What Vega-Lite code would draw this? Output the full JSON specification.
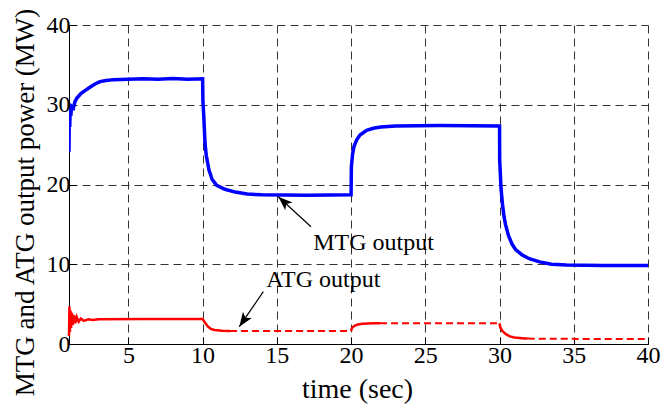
{
  "$schema": "https://vega.github.io/schema/vega-lite/v6.json",
  "width": 579,
  "height": 319,
  "autosize": {"type": "none"},
  "padding": {"left": 69, "top": 25, "right": 12, "bottom": 62},
  "background": "white",
  "config": {
    "view": {"stroke": null},
    "font": "Liberation Serif",
    "axis": {
      "labelFont": "Liberation Serif",
      "labelFontSize": 24,
      "labelColor": "black",
      "titleFont": "Liberation Serif",
      "titleFontWeight": "normal",
      "titleColor": "black",
      "domainColor": "black",
      "domainWidth": 1,
      "gridColor": "#333",
      "gridDash": [8, 5],
      "gridWidth": 1,
      "gridOpacity": 1,
      "tickColor": "black",
      "labelFlush": false,
      "labelOverlap": false
    }
  },
  "datasets": {
    "mtg": [
      {"t": 1.0, "p": 24.1}, {"t": 1.02, "p": 28.5}, {"t": 1.05, "p": 27.2}, {"t": 1.08, "p": 29.5},
      {"t": 1.12, "p": 28.6}, {"t": 1.18, "p": 29.8}, {"t": 1.3, "p": 29.6}, {"t": 1.4, "p": 30.4},
      {"t": 1.52, "p": 30.8}, {"t": 1.8, "p": 31.4}, {"t": 2.1, "p": 31.8}, {"t": 2.41, "p": 32.2},
      {"t": 2.75, "p": 32.6}, {"t": 3.09, "p": 32.9}, {"t": 3.5, "p": 33.05}, {"t": 4.0, "p": 33.15},
      {"t": 5.0, "p": 33.2}, {"t": 6.0, "p": 33.25}, {"t": 7.0, "p": 33.2}, {"t": 8.0, "p": 33.3},
      {"t": 9.0, "p": 33.2}, {"t": 10.0, "p": 33.25},
      {"t": 10.02, "p": 30.5}, {"t": 10.08, "p": 28.5}, {"t": 10.16, "p": 25.2}, {"t": 10.25, "p": 23.6},
      {"t": 10.43, "p": 21.8}, {"t": 10.65, "p": 20.6}, {"t": 10.95, "p": 19.9}, {"t": 11.5, "p": 19.4},
      {"t": 12.2, "p": 19.05}, {"t": 13.0, "p": 18.8}, {"t": 14.0, "p": 18.7}, {"t": 17.0, "p": 18.65},
      {"t": 20.0, "p": 18.7},
      {"t": 20.02, "p": 22.2}, {"t": 20.1, "p": 23.8}, {"t": 20.2, "p": 24.8}, {"t": 20.38, "p": 25.6},
      {"t": 20.6, "p": 26.2}, {"t": 21.05, "p": 26.8}, {"t": 21.5, "p": 27.05}, {"t": 22.0, "p": 27.2},
      {"t": 23.0, "p": 27.35}, {"t": 26.0, "p": 27.4}, {"t": 30.0, "p": 27.35},
      {"t": 30.01, "p": 23.0}, {"t": 30.05, "p": 21.5}, {"t": 30.1, "p": 19.5}, {"t": 30.2, "p": 17.5},
      {"t": 30.3, "p": 16.0}, {"t": 30.4, "p": 15.0}, {"t": 30.6, "p": 13.6}, {"t": 30.85, "p": 12.5},
      {"t": 31.1, "p": 11.8}, {"t": 31.5, "p": 11.2}, {"t": 32.0, "p": 10.7}, {"t": 32.7, "p": 10.3},
      {"t": 33.5, "p": 10.0}, {"t": 34.5, "p": 9.9}, {"t": 37.0, "p": 9.85}, {"t": 40.0, "p": 9.85}
    ],
    "atg": [
      {"seg": "a", "style": "solid", "t": 1.0, "p": 1.0}, {"seg": "a", "style": "solid", "t": 1.03, "p": 4.7},
      {"seg": "a", "style": "solid", "t": 1.06, "p": 1.5}, {"seg": "a", "style": "solid", "t": 1.1, "p": 4.2},
      {"seg": "a", "style": "solid", "t": 1.14, "p": 2.0}, {"seg": "a", "style": "solid", "t": 1.2, "p": 3.9},
      {"seg": "a", "style": "solid", "t": 1.26, "p": 2.4}, {"seg": "a", "style": "solid", "t": 1.33, "p": 3.6},
      {"seg": "a", "style": "solid", "t": 1.42, "p": 2.6}, {"seg": "a", "style": "solid", "t": 1.52, "p": 3.4},
      {"seg": "a", "style": "solid", "t": 1.65, "p": 2.8}, {"seg": "a", "style": "solid", "t": 1.8, "p": 3.2},
      {"seg": "a", "style": "solid", "t": 2.0, "p": 2.9}, {"seg": "a", "style": "solid", "t": 2.3, "p": 3.1},
      {"seg": "a", "style": "solid", "t": 2.6, "p": 3.0}, {"seg": "a", "style": "solid", "t": 3.0, "p": 3.1},
      {"seg": "a", "style": "solid", "t": 6.0, "p": 3.15}, {"seg": "a", "style": "solid", "t": 10.0, "p": 3.15},
      {"seg": "a", "style": "solid", "t": 10.15, "p": 2.7}, {"seg": "a", "style": "solid", "t": 10.35, "p": 2.2},
      {"seg": "a", "style": "solid", "t": 10.55, "p": 1.9}, {"seg": "a", "style": "solid", "t": 10.8, "p": 1.75},
      {"seg": "a", "style": "solid", "t": 11.3, "p": 1.65}, {"seg": "a", "style": "solid", "t": 11.85, "p": 1.62},
      {"seg": "b", "style": "dashed", "t": 11.85, "p": 1.62}, {"seg": "b", "style": "dashed", "t": 20.0, "p": 1.62},
      {"seg": "c", "style": "solid", "t": 20.0, "p": 1.62}, {"seg": "c", "style": "solid", "t": 20.05, "p": 2.0},
      {"seg": "c", "style": "solid", "t": 20.2, "p": 2.25}, {"seg": "c", "style": "solid", "t": 20.45, "p": 2.45},
      {"seg": "c", "style": "solid", "t": 20.8, "p": 2.55}, {"seg": "c", "style": "solid", "t": 21.5, "p": 2.6},
      {"seg": "c", "style": "solid", "t": 21.95, "p": 2.6},
      {"seg": "d", "style": "dashed", "t": 21.95, "p": 2.6}, {"seg": "d", "style": "dashed", "t": 30.0, "p": 2.6},
      {"seg": "e", "style": "solid", "t": 30.0, "p": 2.6}, {"seg": "e", "style": "solid", "t": 30.05, "p": 2.1},
      {"seg": "e", "style": "solid", "t": 30.2, "p": 1.6}, {"seg": "e", "style": "solid", "t": 30.45, "p": 1.2},
      {"seg": "e", "style": "solid", "t": 30.7, "p": 0.95}, {"seg": "e", "style": "solid", "t": 31.0, "p": 0.82},
      {"seg": "e", "style": "solid", "t": 31.7, "p": 0.7}, {"seg": "e", "style": "solid", "t": 31.9, "p": 0.68},
      {"seg": "f", "style": "dashed", "t": 31.9, "p": 0.68}, {"seg": "f", "style": "dashed", "t": 32.5, "p": 0.65},
      {"seg": "f", "style": "dashed", "t": 40.0, "p": 0.63}
    ],
    "labels": [
      {"label": "MTG output", "t": 21.51, "p": 11.79},
      {"label": "ATG output", "t": 18.13, "p": 7.18}
    ],
    "arrows": [
      {"name": "MTG", "t": 17.3, "p": 14.71, "t2": 15.1, "p2": 18.47, "ang": 312.5},
      {"name": "ATG", "t": 14.09, "p": 6.56, "t2": 12.47, "p2": 2.17, "ang": 214.5}
    ]
  },
  "layer": [
    {
      "data": {"name": "mtg"},
      "mark": {"type": "line", "color": "#0000FF", "strokeWidth": 3.5, "clip": true},
      "encoding": {
        "x": {
          "field": "t", "type": "quantitative",
          "scale": {"domain": [1, 40], "nice": false, "zero": false},
          "axis": {
            "title": "time (sec)",
            "values": [5, 10, 15, 20, 25, 30, 35, 40],
            "grid": true,
            "tickSize": -7,
            "labelPadding": 6,
            "titleFontSize": 28,
            "titleX": 288,
            "titleY": 53,
            "titleBaseline": "alphabetic",
            "titleAlign": "center"
          }
        },
        "y": {
          "field": "p", "type": "quantitative",
          "scale": {"domain": [0, 40], "nice": false},
          "axis": {
            "title": "MTG and ATG output power (MW)",
            "values": [0, 10, 20, 30, 40],
            "grid": true,
            "tickSize": -7,
            "labelPadding": 6,
            "titleFontSize": 27,
            "titleAngle": -90,
            "titleX": -36,
            "titleY": 177,
            "titleBaseline": "alphabetic",
            "titleAlign": "center"
          }
        }
      }
    },
    {
      "data": {"name": "atg"},
      "transform": [{"filter": "datum.style === 'solid'"}],
      "mark": {"type": "line", "color": "#FF0000", "strokeWidth": 2.5},
      "encoding": {
        "x": {"field": "t", "type": "quantitative"},
        "y": {"field": "p", "type": "quantitative"},
        "detail": {"field": "seg"}
      }
    },
    {
      "data": {"name": "atg"},
      "transform": [{"filter": "datum.style === 'dashed'"}],
      "mark": {"type": "line", "color": "#FF0000", "strokeWidth": 2, "strokeDash": [7, 4]},
      "encoding": {
        "x": {"field": "t", "type": "quantitative"},
        "y": {"field": "p", "type": "quantitative"},
        "detail": {"field": "seg"}
      }
    },
    {
      "data": {"name": "arrows"},
      "mark": {"type": "rule", "color": "black", "strokeWidth": 1.2},
      "encoding": {
        "x": {"field": "t", "type": "quantitative"},
        "y": {"field": "p", "type": "quantitative"},
        "x2": {"field": "t2"},
        "y2": {"field": "p2"}
      }
    },
    {
      "data": {"name": "arrows"},
      "mark": {
        "type": "point",
        "shape": "M0,0L0.6,1.6L0,1.2L-0.6,1.6Z",
        "filled": true,
        "color": "black",
        "opacity": 1,
        "size": 320
      },
      "encoding": {
        "x": {"field": "t2", "type": "quantitative"},
        "y": {"field": "p2", "type": "quantitative"},
        "angle": {"field": "ang", "type": "quantitative", "scale": null}
      }
    },
    {
      "data": {"name": "labels"},
      "mark": {"type": "text", "font": "Liberation Serif", "fontSize": 24, "color": "black", "align": "center", "baseline": "alphabetic"},
      "encoding": {
        "x": {"field": "t", "type": "quantitative"},
        "y": {"field": "p", "type": "quantitative"},
        "text": {"field": "label"}
      }
    }
  ]
}
